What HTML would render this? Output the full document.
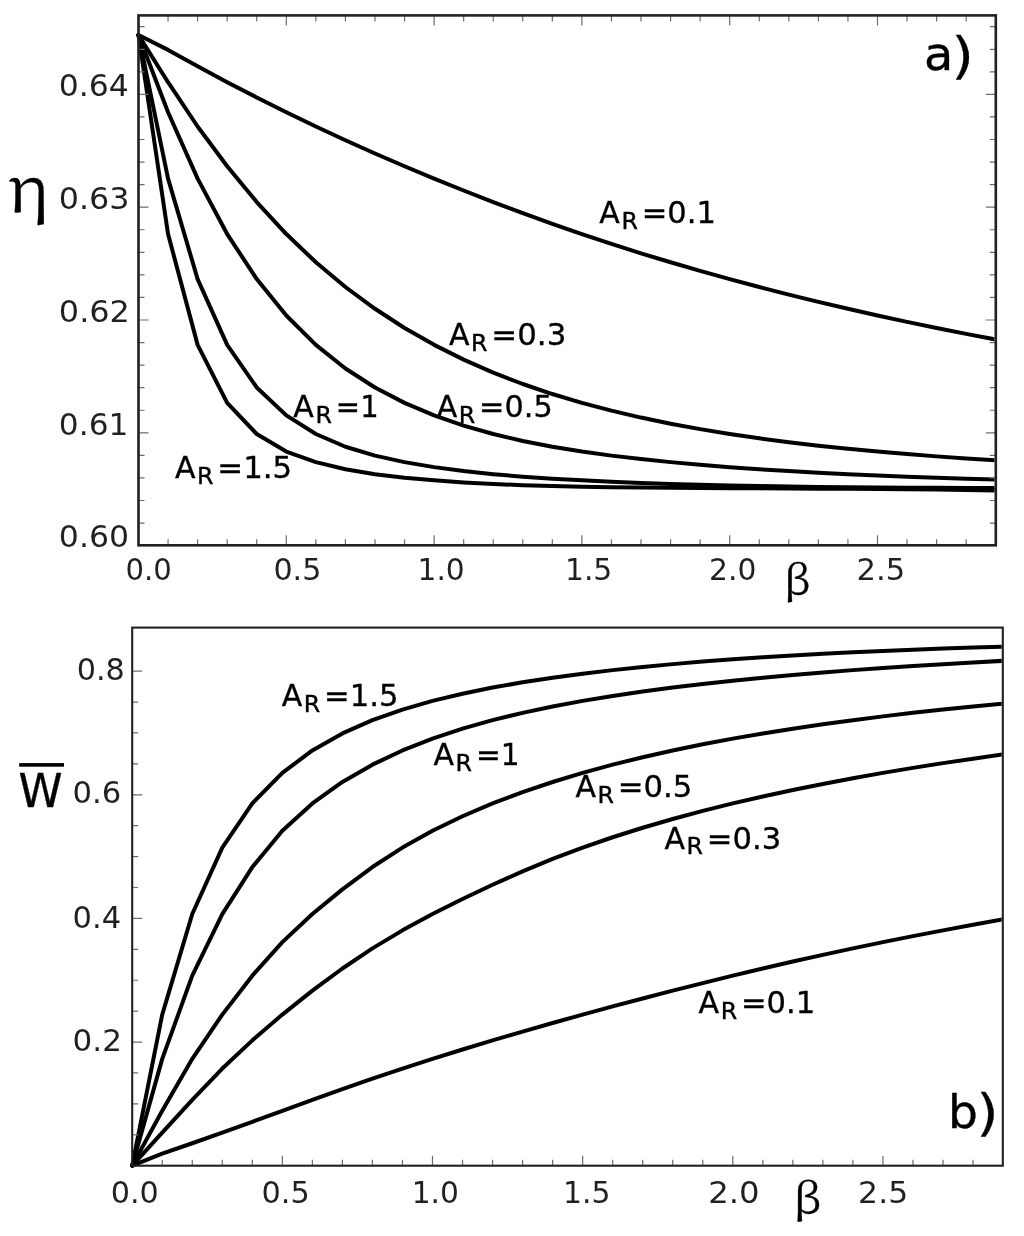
<!DOCTYPE html>
<html><head><meta charset="utf-8"><style>
html,body{margin:0;padding:0;background:#fff;}
body{width:1024px;height:1236px;overflow:hidden;}
svg{display:block;}
text{font-family:"DejaVu Sans","Liberation Sans",sans-serif;fill:#231f20;}
.s{font-family:"Noto Serif CJK SC","Liberation Serif",serif;}
.k{fill:#000;stroke:#000;stroke-width:0.35px;}
</style></head><body>
<svg width="1024" height="1236" viewBox="0 0 1024 1236">
<rect x="0" y="0" width="1024" height="1236" fill="#fff"/>
<defs><clipPath id="ca"><rect x="0" y="0" width="994.50" height="1236"/></clipPath><clipPath id="cb"><rect x="0" y="0" width="1001.75" height="1236"/></clipPath></defs>
<polyline fill="none" stroke="#000" stroke-width="4.0" stroke-linejoin="round" stroke-linecap="round" clip-path="url(#ca)" points="138.50,35.08 168.06,49.89 197.62,66.30 227.18,82.19 256.74,97.51 286.30,112.27 315.86,126.50 345.42,140.23 374.98,153.48 404.54,166.26 434.10,178.60 463.66,190.52 493.22,202.02 522.78,213.11 552.34,223.79 581.90,234.05 611.46,243.89 641.02,253.29 670.58,262.28 700.14,270.88 729.70,279.11 759.26,287.01 788.82,294.58 818.38,301.84 847.94,308.80 877.50,315.48 907.06,321.87 936.62,328.00 966.18,333.87 995.74,339.49"/>
<polyline fill="none" stroke="#000" stroke-width="4.0" stroke-linejoin="round" stroke-linecap="round" clip-path="url(#ca)" points="138.50,35.08 168.06,82.19 197.62,126.50 227.18,166.26 256.74,202.02 286.30,234.05 315.86,262.28 345.42,287.01 374.98,308.80 404.54,328.00 434.10,344.86 463.66,359.63 493.22,372.59 522.78,384.00 552.34,394.03 581.90,402.86 611.46,410.67 641.02,417.58 670.58,423.70 700.14,429.15 729.70,434.00 759.26,438.32 788.82,442.19 818.38,445.65 847.94,448.76 877.50,451.55 907.06,454.08 936.62,456.37 966.18,458.46 995.74,460.37"/>
<polyline fill="none" stroke="#000" stroke-width="4.0" stroke-linejoin="round" stroke-linecap="round" clip-path="url(#ca)" points="138.50,35.08 168.06,112.27 197.62,178.60 227.18,234.05 256.74,279.11 286.30,315.48 315.86,344.86 345.42,368.46 374.98,387.48 404.54,402.86 434.10,415.37 463.66,425.59 493.22,434.00 522.78,440.95 552.34,446.72 581.90,451.55 611.46,455.63 641.02,459.11 670.58,462.13 700.14,464.79 729.70,467.14 759.26,469.22 788.82,471.07 818.38,472.71 847.94,474.17 877.50,475.48 907.06,476.66 936.62,477.71 966.18,478.67 995.74,479.55"/>
<polyline fill="none" stroke="#000" stroke-width="4.0" stroke-linejoin="round" stroke-linecap="round" clip-path="url(#ca)" points="138.50,35.08 168.06,178.60 197.62,279.11 227.18,344.86 256.74,387.48 286.30,415.37 315.86,434.00 345.42,446.72 374.98,455.63 404.54,462.13 434.10,467.14 463.66,471.07 493.22,474.17 522.78,476.66 552.34,478.67 581.90,480.35 611.46,481.76 641.02,482.95 670.58,483.95 700.14,484.78 729.70,485.48 759.26,486.05 788.82,486.53 818.38,486.92 847.94,487.23 877.50,487.49 907.06,487.70 936.62,487.87 966.18,488.01 995.74,488.12"/>
<polyline fill="none" stroke="#000" stroke-width="4.0" stroke-linejoin="round" stroke-linecap="round" clip-path="url(#ca)" points="138.50,35.08 168.06,234.05 197.62,344.86 227.18,402.86 256.74,434.00 286.30,451.55 315.86,462.13 345.42,469.22 374.98,474.17 404.54,477.71 434.10,480.35 463.66,482.38 493.22,483.95 522.78,485.15 552.34,486.05 581.90,486.73 611.46,487.23 641.02,487.60 670.58,487.87 700.14,488.07 729.70,488.22 759.26,488.36 788.82,488.49 818.38,488.64 847.94,488.81 877.50,489.02 907.06,489.29 936.62,489.62 966.18,490.01 995.74,490.49"/>
<polyline fill="none" stroke="#000" stroke-width="4.0" stroke-linejoin="round" stroke-linecap="round" clip-path="url(#cb)" points="132.20,1165.62 162.23,1153.67 192.26,1143.24 222.29,1132.63 252.32,1121.82 282.35,1110.83 312.38,1099.80 342.41,1089.01 372.44,1078.59 402.47,1068.54 432.50,1058.85 462.53,1049.47 492.56,1040.38 522.59,1031.55 552.62,1022.96 582.65,1014.60 612.68,1006.43 642.71,998.46 672.74,990.67 702.77,983.07 732.80,975.68 762.83,968.50 792.86,961.55 822.89,954.83 852.92,948.36 882.95,942.14 912.98,936.15 943.01,930.36 973.04,924.76 1003.07,919.33"/>
<polyline fill="none" stroke="#000" stroke-width="4.0" stroke-linejoin="round" stroke-linecap="round" clip-path="url(#cb)" points="132.20,1165.62 162.23,1132.63 192.26,1099.80 222.29,1068.54 252.32,1040.38 282.35,1014.60 312.38,990.67 342.41,968.50 372.44,948.36 402.47,930.36 432.50,914.05 462.53,898.96 492.56,884.74 522.59,871.31 552.62,858.92 582.65,847.61 612.68,837.25 642.71,827.74 672.74,818.99 702.77,810.91 732.80,803.43 762.83,796.47 792.86,789.99 822.89,783.93 852.92,778.24 882.95,772.89 912.98,767.87 943.01,763.13 973.04,758.66 1003.07,754.45"/>
<polyline fill="none" stroke="#000" stroke-width="4.0" stroke-linejoin="round" stroke-linecap="round" clip-path="url(#cb)" points="132.20,1165.62 162.23,1110.83 192.26,1058.85 222.29,1014.60 252.32,975.68 282.35,942.14 312.38,914.05 342.41,889.40 372.44,867.05 402.47,847.61 432.50,830.82 462.53,816.22 492.56,803.43 522.59,792.11 552.62,781.99 582.65,772.89 612.68,764.68 642.71,757.23 672.74,750.46 702.77,744.29 732.80,738.63 762.83,733.44 792.86,728.66 822.89,724.25 852.92,720.16 882.95,716.37 912.98,712.84 943.01,709.55 973.04,706.48 1003.07,703.60"/>
<polyline fill="none" stroke="#000" stroke-width="4.0" stroke-linejoin="round" stroke-linecap="round" clip-path="url(#cb)" points="132.20,1165.62 162.23,1058.85 192.26,975.68 222.29,914.05 252.32,867.05 282.35,830.82 312.38,803.43 342.41,781.99 372.44,764.68 402.47,750.46 432.50,738.63 462.53,728.66 492.56,720.16 522.59,712.84 552.62,706.48 582.65,700.90 612.68,695.96 642.71,691.55 672.74,687.58 702.77,683.99 732.80,680.72 762.83,677.73 792.86,674.99 822.89,672.46 852.92,670.13 882.95,667.98 912.98,665.98 943.01,664.13 973.04,662.42 1003.07,660.82"/>
<polyline fill="none" stroke="#000" stroke-width="4.0" stroke-linejoin="round" stroke-linecap="round" clip-path="url(#cb)" points="132.20,1165.62 162.23,1014.60 192.26,914.05 222.29,847.61 252.32,803.43 282.35,772.89 312.38,750.46 342.41,733.44 372.44,720.16 402.47,709.55 432.50,700.90 462.53,693.70 492.56,687.58 522.59,682.32 552.62,677.73 582.65,673.70 612.68,670.13 642.71,666.96 672.74,664.13 702.77,661.60 732.80,659.34 762.83,657.30 792.86,655.46 822.89,653.81 852.92,652.31 882.95,650.95 912.98,649.72 943.01,648.60 973.04,647.57 1003.07,646.62"/>
<path d="M168.06 545.30L168.06 539.30M168.06 15.40L168.06 21.40M197.62 545.30L197.62 539.30M197.62 15.40L197.62 21.40M227.18 545.30L227.18 539.30M227.18 15.40L227.18 21.40M256.74 545.30L256.74 539.30M256.74 15.40L256.74 21.40M286.30 545.30L286.30 535.30M286.30 15.40L286.30 25.40M315.86 545.30L315.86 539.30M315.86 15.40L315.86 21.40M345.42 545.30L345.42 539.30M345.42 15.40L345.42 21.40M374.98 545.30L374.98 539.30M374.98 15.40L374.98 21.40M404.54 545.30L404.54 539.30M404.54 15.40L404.54 21.40M434.10 545.30L434.10 535.30M434.10 15.40L434.10 25.40M463.66 545.30L463.66 539.30M463.66 15.40L463.66 21.40M493.22 545.30L493.22 539.30M493.22 15.40L493.22 21.40M522.78 545.30L522.78 539.30M522.78 15.40L522.78 21.40M552.34 545.30L552.34 539.30M552.34 15.40L552.34 21.40M581.90 545.30L581.90 535.30M581.90 15.40L581.90 25.40M611.46 545.30L611.46 539.30M611.46 15.40L611.46 21.40M641.02 545.30L641.02 539.30M641.02 15.40L641.02 21.40M670.58 545.30L670.58 539.30M670.58 15.40L670.58 21.40M700.14 545.30L700.14 539.30M700.14 15.40L700.14 21.40M729.70 545.30L729.70 535.30M729.70 15.40L729.70 25.40M759.26 545.30L759.26 539.30M759.26 15.40L759.26 21.40M788.82 545.30L788.82 539.30M788.82 15.40L788.82 21.40M818.38 545.30L818.38 539.30M818.38 15.40L818.38 21.40M847.94 545.30L847.94 539.30M847.94 15.40L847.94 21.40M877.50 545.30L877.50 535.30M877.50 15.40L877.50 25.40M907.06 545.30L907.06 539.30M907.06 15.40L907.06 21.40M936.62 545.30L936.62 539.30M936.62 15.40L936.62 21.40M966.18 545.30L966.18 539.30M966.18 15.40L966.18 21.40M138.50 523.04L144.50 523.04M995.80 523.04L989.80 523.04M138.50 500.48L144.50 500.48M995.80 500.48L989.80 500.48M138.50 477.92L144.50 477.92M995.80 477.92L989.80 477.92M138.50 455.36L144.50 455.36M995.80 455.36L989.80 455.36M138.50 432.80L148.50 432.80M995.80 432.80L985.80 432.80M138.50 410.24L144.50 410.24M995.80 410.24L989.80 410.24M138.50 387.68L144.50 387.68M995.80 387.68L989.80 387.68M138.50 365.12L144.50 365.12M995.80 365.12L989.80 365.12M138.50 342.56L144.50 342.56M995.80 342.56L989.80 342.56M138.50 320.00L148.50 320.00M995.80 320.00L985.80 320.00M138.50 297.44L144.50 297.44M995.80 297.44L989.80 297.44M138.50 274.88L144.50 274.88M995.80 274.88L989.80 274.88M138.50 252.32L144.50 252.32M995.80 252.32L989.80 252.32M138.50 229.76L144.50 229.76M995.80 229.76L989.80 229.76M138.50 207.20L148.50 207.20M995.80 207.20L985.80 207.20M138.50 184.64L144.50 184.64M995.80 184.64L989.80 184.64M138.50 162.08L144.50 162.08M995.80 162.08L989.80 162.08M138.50 139.52L144.50 139.52M995.80 139.52L989.80 139.52M138.50 116.96L144.50 116.96M995.80 116.96L989.80 116.96M138.50 94.40L148.50 94.40M995.80 94.40L985.80 94.40M138.50 71.84L144.50 71.84M995.80 71.84L989.80 71.84M138.50 49.28L144.50 49.28M995.80 49.28L989.80 49.28M138.50 26.72L144.50 26.72M995.80 26.72L989.80 26.72M162.23 1165.70L162.23 1159.70M192.26 1165.70L192.26 1159.70M222.29 1165.70L222.29 1159.70M252.32 1165.70L252.32 1159.70M282.35 1165.70L282.35 1155.70M312.38 1165.70L312.38 1159.70M342.41 1165.70L342.41 1159.70M372.44 1165.70L372.44 1159.70M402.47 1165.70L402.47 1159.70M432.50 1165.70L432.50 1155.70M462.53 1165.70L462.53 1159.70M492.56 1165.70L492.56 1159.70M522.59 1165.70L522.59 1159.70M552.62 1165.70L552.62 1159.70M582.65 1165.70L582.65 1155.70M612.68 1165.70L612.68 1159.70M642.71 1165.70L642.71 1159.70M672.74 1165.70L672.74 1159.70M702.77 1165.70L702.77 1159.70M732.80 1165.70L732.80 1155.70M762.83 1165.70L762.83 1159.70M792.86 1165.70L792.86 1159.70M822.89 1165.70L822.89 1159.70M852.92 1165.70L852.92 1159.70M882.95 1165.70L882.95 1155.70M912.98 1165.70L912.98 1159.70M943.01 1165.70L943.01 1159.70M973.04 1165.70L973.04 1159.70M132.20 1134.79L138.20 1134.79M132.20 1103.88L138.20 1103.88M132.20 1072.97L138.20 1072.97M132.20 1042.06L142.20 1042.06M132.20 1011.15L138.20 1011.15M132.20 980.24L138.20 980.24M132.20 949.33L138.20 949.33M132.20 918.42L142.20 918.42M132.20 887.51L138.20 887.51M132.20 856.60L138.20 856.60M132.20 825.69L138.20 825.69M132.20 794.78L142.20 794.78M132.20 763.87L138.20 763.87M132.20 732.96L138.20 732.96M132.20 702.05L138.20 702.05M132.20 671.14L142.20 671.14" stroke="#6d6d6d" stroke-width="1.2" fill="none"/>
<rect x="138.5" y="15.4" width="857.3" height="529.9" fill="none" stroke="#231f20" stroke-width="2.6"/>
<rect x="132.2" y="627.6" width="870.5999999999999" height="538.1" fill="none" stroke="#231f20" stroke-width="2.1"/>
<text x="58.75" y="96.00" font-size="30" textLength="70.13" lengthAdjust="spacingAndGlyphs">0.64</text>
<text x="58.73" y="209.10" font-size="30" textLength="70.87" lengthAdjust="spacingAndGlyphs">0.63</text>
<text x="58.82" y="322.20" font-size="30" textLength="71.12" lengthAdjust="spacingAndGlyphs">0.62</text>
<text x="58.87" y="434.90" font-size="30" textLength="69.49" lengthAdjust="spacingAndGlyphs">0.61</text>
<text x="58.85" y="547.20" font-size="30" textLength="70.25" lengthAdjust="spacingAndGlyphs">0.60</text>
<text x="125.41" y="579.50" font-size="30" textLength="46.30" lengthAdjust="spacingAndGlyphs">0.0</text>
<text x="273.44" y="579.50" font-size="30" textLength="47.93" lengthAdjust="spacingAndGlyphs">0.5</text>
<text x="417.53" y="579.50" font-size="30" textLength="47.21" lengthAdjust="spacingAndGlyphs">1.0</text>
<text x="564.92" y="579.50" font-size="30" textLength="47.43" lengthAdjust="spacingAndGlyphs">1.5</text>
<text x="709.02" y="579.50" font-size="30" textLength="47.33" lengthAdjust="spacingAndGlyphs">2.0</text>
<text x="856.46" y="579.50" font-size="30" textLength="48.66" lengthAdjust="spacingAndGlyphs">2.5</text>
<text x="76.73" y="680.30" font-size="30" textLength="48.15" lengthAdjust="spacingAndGlyphs">0.8</text>
<text x="72.61" y="803.30" font-size="30" textLength="48.74" lengthAdjust="spacingAndGlyphs">0.6</text>
<text x="72.61" y="927.50" font-size="30" textLength="48.58" lengthAdjust="spacingAndGlyphs">0.4</text>
<text x="72.58" y="1050.60" font-size="30" textLength="49.33" lengthAdjust="spacingAndGlyphs">0.2</text>
<text x="110.73" y="1203.30" font-size="30" textLength="48.15" lengthAdjust="spacingAndGlyphs">0.0</text>
<text x="261.53" y="1203.30" font-size="30" textLength="48.26" lengthAdjust="spacingAndGlyphs">0.5</text>
<text x="411.63" y="1203.30" font-size="30" textLength="47.32" lengthAdjust="spacingAndGlyphs">1.0</text>
<text x="562.91" y="1203.30" font-size="30" textLength="47.54" lengthAdjust="spacingAndGlyphs">1.5</text>
<text x="708.27" y="1203.30" font-size="30" textLength="51.44" lengthAdjust="spacingAndGlyphs">2.0</text>
<text x="858.14" y="1203.30" font-size="30" textLength="50.05" lengthAdjust="spacingAndGlyphs">2.5</text>
<text x="7.29" y="211.50" font-size="63.4" textLength="42.05" lengthAdjust="spacingAndGlyphs" class="s k">η</text>
<text x="783.65" y="594.38" font-size="39.6" textLength="26.76" lengthAdjust="spacingAndGlyphs" class="s k">β</text>
<text x="793.33" y="1212.98" font-size="41.58" textLength="28.21" lengthAdjust="spacingAndGlyphs" class="s k">β</text>
<text x="18.54" y="806.70" font-size="46" textLength="44.06" lengthAdjust="spacingAndGlyphs" class="k">W</text>
<rect x="19.2" y="763.1" width="44.8" height="3.6" fill="#000"/>
<text x="924.13" y="69.60" font-size="46.43" textLength="29.31" lengthAdjust="spacingAndGlyphs" class="k">a</text>
<text x="951.58" y="73.00" font-size="50.0" textLength="22.43" lengthAdjust="spacingAndGlyphs" class="k">)</text>
<text x="947.96" y="1128.12" font-size="45.42" textLength="29.92" lengthAdjust="spacingAndGlyphs" class="k">b</text>
<text x="976.53" y="1130.42" font-size="49.1" textLength="22.03" lengthAdjust="spacingAndGlyphs" class="k">)</text>
<text x="599.30" y="222.80" font-size="30" class="k">A</text>
<text x="621.43" y="228.60" font-size="22.2" textLength="16.48" lengthAdjust="spacingAndGlyphs" class="k">R</text>
<text x="641.69" y="222.80" font-size="30" textLength="74.16" lengthAdjust="spacingAndGlyphs" class="k">=0.1</text>
<text x="449.00" y="344.80" font-size="30" class="k">A</text>
<text x="471.13" y="350.60" font-size="22.2" textLength="16.48" lengthAdjust="spacingAndGlyphs" class="k">R</text>
<text x="491.36" y="344.80" font-size="30" textLength="74.91" lengthAdjust="spacingAndGlyphs" class="k">=0.3</text>
<text x="436.70" y="416.80" font-size="30" class="k">A</text>
<text x="458.83" y="422.60" font-size="22.2" textLength="16.48" lengthAdjust="spacingAndGlyphs" class="k">R</text>
<text x="479.12" y="416.80" font-size="30" textLength="73.55" lengthAdjust="spacingAndGlyphs" class="k">=0.5</text>
<text x="293.30" y="417.20" font-size="30" class="k">A</text>
<text x="315.43" y="423.00" font-size="22.2" textLength="16.48" lengthAdjust="spacingAndGlyphs" class="k">R</text>
<text x="335.86" y="417.20" font-size="30" textLength="42.73" lengthAdjust="spacingAndGlyphs" class="k">=1</text>
<text x="175.00" y="478.10" font-size="30" class="k">A</text>
<text x="197.13" y="483.90" font-size="22.2" textLength="16.48" lengthAdjust="spacingAndGlyphs" class="k">R</text>
<text x="217.37" y="478.10" font-size="30" textLength="74.75" lengthAdjust="spacingAndGlyphs" class="k">=1.5</text>
<text x="281.70" y="706.20" font-size="30" class="k">A</text>
<text x="303.83" y="712.00" font-size="22.2" textLength="16.48" lengthAdjust="spacingAndGlyphs" class="k">R</text>
<text x="324.08" y="706.20" font-size="30" textLength="74.42" lengthAdjust="spacingAndGlyphs" class="k">=1.5</text>
<text x="433.50" y="764.90" font-size="30" class="k">A</text>
<text x="455.63" y="770.70" font-size="22.2" textLength="16.48" lengthAdjust="spacingAndGlyphs" class="k">R</text>
<text x="475.99" y="764.90" font-size="30" textLength="43.65" lengthAdjust="spacingAndGlyphs" class="k">=1</text>
<text x="575.40" y="797.10" font-size="30" class="k">A</text>
<text x="597.53" y="802.90" font-size="22.2" textLength="16.48" lengthAdjust="spacingAndGlyphs" class="k">R</text>
<text x="617.77" y="797.10" font-size="30" textLength="74.64" lengthAdjust="spacingAndGlyphs" class="k">=0.5</text>
<text x="664.50" y="848.50" font-size="30" class="k">A</text>
<text x="686.63" y="854.30" font-size="22.2" textLength="16.48" lengthAdjust="spacingAndGlyphs" class="k">R</text>
<text x="706.88" y="848.50" font-size="30" textLength="74.37" lengthAdjust="spacingAndGlyphs" class="k">=0.3</text>
<text x="698.60" y="1012.80" font-size="30" class="k">A</text>
<text x="720.73" y="1018.60" font-size="22.2" textLength="16.48" lengthAdjust="spacingAndGlyphs" class="k">R</text>
<text x="740.99" y="1012.80" font-size="30" textLength="74.26" lengthAdjust="spacingAndGlyphs" class="k">=0.1</text>
</svg>
</body></html>
